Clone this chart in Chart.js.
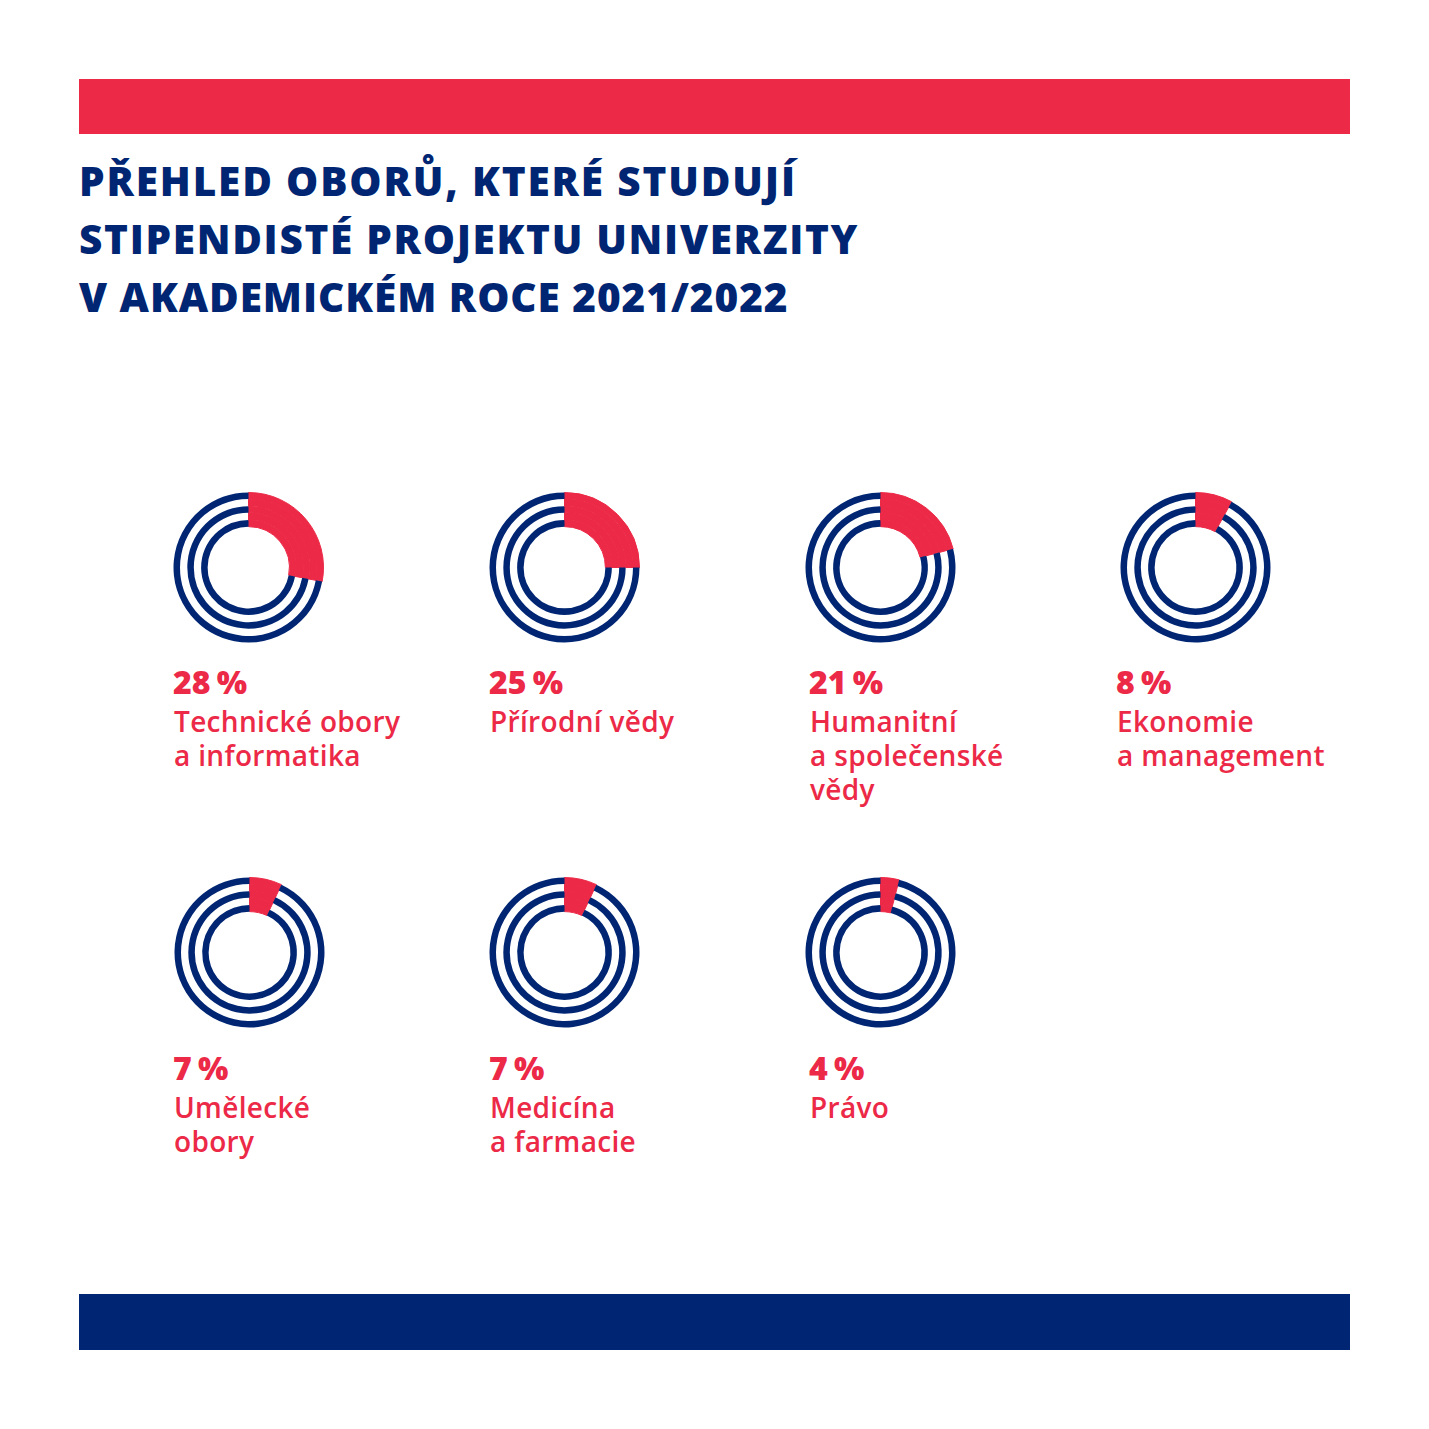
<!DOCTYPE html>
<html lang="cs">
<head>
<meta charset="utf-8">
<title>Přehled oborů</title>
<script src="https://cdn.jsdelivr.net/npm/chart.js@4/dist/chart.umd.min.js"></script>
<style>
    html, body { margin: 0; padding: 0; background: #fff; }
    #page { position: relative; width: 1429px; height: 1429px; overflow: hidden; font-family: "Open Sans", sans-serif; }
    .bar { position: absolute; left: 79px; width: 1271px; }
    .bar-top { top: 79px; height: 55px; background: rgb(236, 41, 71); }
    .bar-bottom { top: 1294px; height: 56px; background: rgb(0, 38, 115); }
    .title { position: absolute; left: 79px; margin: 0; color: rgb(0, 38, 115); font-size: 40.5px; font-weight: 800; line-height: 58px; white-space: nowrap; }
    .card-canvas { position: absolute; width: 151px; height: 151px; }
    .card-pct, .card-label { position: absolute; margin: 0; color: rgb(236, 41, 71); }
    .card-pct { font-size: 32px; font-weight: 800; line-height: 40px; word-spacing: -2px; white-space: nowrap; }
    .card-label { font-size: 28px; font-weight: 600; line-height: 34px; letter-spacing: 0.33px; white-space: pre; }
</style>
</head>
<body>
<div id="page">
    <div class="bar bar-top"></div>
    <p class="title" style="top:152px;letter-spacing:1.85px">PŘEHLED OBORŮ, KTERÉ STUDUJÍ</p>
    <p class="title" style="top:210px;letter-spacing:1.7px">STIPENDISTÉ PROJEKTU UNIVERZITY</p>
    <p class="title" style="top:268px;letter-spacing:0.95px">V AKADEMICKÉM ROCE 2021/2022</p>
    <div class="bar bar-bottom"></div>
</div>
<script>
const RED = 'rgb(236, 41, 71)';
const NAVY = 'rgb(0, 38, 115)';

const FIELDS = [
    { value: 28, lines: ['Technické obory', 'a informatika'], cx: 248, cy: 567, textX: 174, textY: 662 },
    { value: 25, lines: ['Přírodní vědy'], cx: 564, cy: 567, textX: 490, textY: 662 },
    { value: 21, lines: ['Humanitní', 'a společenské', 'vědy'], cx: 880, cy: 567, textX: 810, textY: 662 },
    { value: 8, lines: ['Ekonomie', 'a management'], cx: 1195, cy: 567, textX: 1117, textY: 662 },
    { value: 7, lines: ['Umělecké', 'obory'], cx: 249, cy: 952, textX: 174, textY: 1048 },
    { value: 7, lines: ['Medicína', 'a farmacie'], cx: 564, cy: 952, textX: 490, textY: 1048 },
    { value: 4, lines: ['Právo'], cx: 880, cy: 952, textX: 810, textY: 1048 },
];

// rings go inside to outside, the white gaps are rings too so the red wedge stays solid
// red arcs get a thin border of their own colour to hide the seams between rings
const ringDataset = (value, rest, weight) => ({
    data: [value, 100 - value],
    backgroundColor: [RED, rest],
    borderColor: [RED, 'rgba(0, 0, 0, 0)'],
    borderWidth: [1, 0],
    weight: weight,
});

const page = document.getElementById('page');

const createCard = ({ value, lines, cx, cy, textX, textY }) => {
    const holder = document.createElement('div');
    holder.className = 'card-canvas';
    holder.style.left = `${cx - 75}px`;
    holder.style.top = `${cy - 75}px`;

    const canvas = document.createElement('canvas');
    canvas.width = 151;
    canvas.height = 151;
    holder.appendChild(canvas);
    page.appendChild(holder);

    new Chart(canvas, {
        type: 'doughnut',
        data: {
            labels: ['Podíl', 'Ostatní'],
            datasets: [
                ringDataset(value, NAVY, 6.6),
                ringDataset(value, 'rgba(0, 0, 0, 0)', 7.4),
                ringDataset(value, NAVY, 6.6),
                ringDataset(value, 'rgba(0, 0, 0, 0)', 7.4),
                ringDataset(value, NAVY, 6.6),
            ],
        },
        options: {
            responsive: false,
            maintainAspectRatio: false,
            animation: false,
            cutout: '54.5%',
            layout: { padding: 0 },
            plugins: { legend: { display: false }, tooltip: { enabled: false } },
        },
    });

    const pct = document.createElement('p');
    pct.className = 'card-pct';
    pct.textContent = `${value} %`;
    pct.style.left = `${textX - 1}px`;
    pct.style.top = `${textY}px`;
    page.appendChild(pct);

    const label = document.createElement('p');
    label.className = 'card-label';
    label.textContent = lines.join('\n');
    label.style.left = `${textX}px`;
    label.style.top = `${textY + 42}px`;
    page.appendChild(label);
};

FIELDS.forEach(createCard);
</script>
</body>
</html>
